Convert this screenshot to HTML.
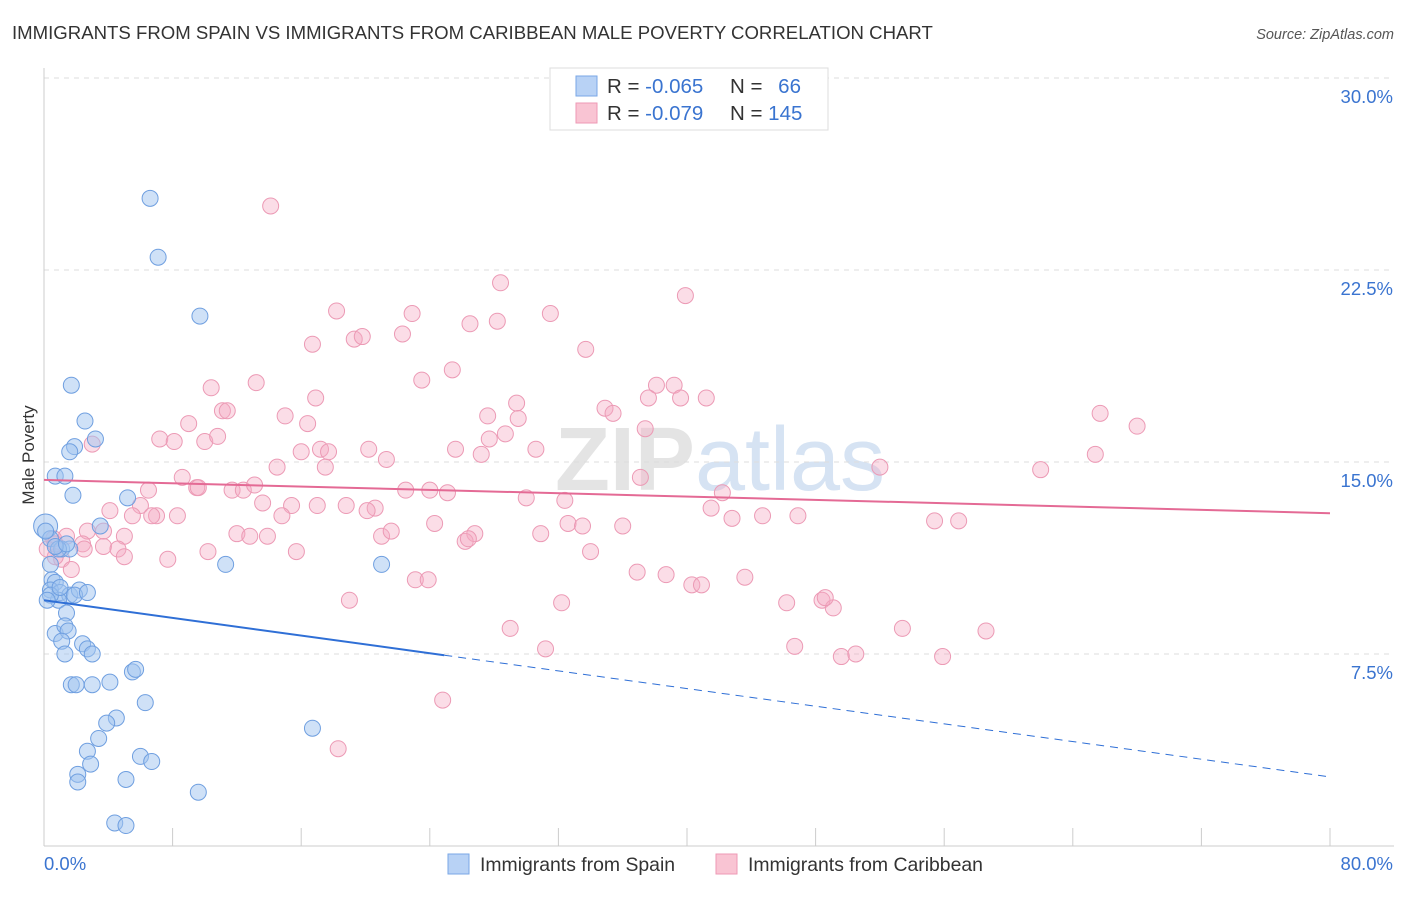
<!DOCTYPE html>
<html><head><meta charset="utf-8"><style>
body{margin:0;background:#fff;font-family:"Liberation Sans",sans-serif}
svg text{font-family:"Liberation Sans",sans-serif}
</style></head><body>
<svg id="chart" width="1406" height="892" viewBox="0 0 1406 892">
<text x="12" y="39" font-size="18.6" fill="#333">IMMIGRANTS FROM SPAIN VS IMMIGRANTS FROM CARIBBEAN MALE POVERTY CORRELATION CHART</text>
<text x="1394" y="39" font-size="14.5" fill="#555" font-style="italic" text-anchor="end">Source: ZipAtlas.com</text>
<text x="720" y="490" font-size="90" fill="#e4e4e4" text-anchor="middle" font-weight="bold">ZIP<tspan fill="#d6e3f3" font-weight="normal">atlas</tspan></text>
<g id="grid"></g><g id="axes"></g><g id="trend"></g><g id="pts"></g>
<text x="34" y="455" font-size="17" fill="#333" text-anchor="middle" transform="rotate(-90 34 455)">Male Poverty</text>
<g>
<rect x="550" y="68" width="278" height="62" fill="#fff" stroke="#ddd"/>
<rect x="576" y="76" width="21" height="20" fill="#b8d2f5" stroke="#7aa7e6"/>
<rect x="576" y="103" width="21" height="20" fill="#f9c4d3" stroke="#ee99b4"/>
<text x="607" y="93" font-size="20.5" fill="#333">R = <tspan fill="#3a74d0">-0.065</tspan></text>
<text x="730" y="93" font-size="20.5" fill="#333">N = <tspan fill="#3a74d0" dx="10">66</tspan></text>
<text x="607" y="120" font-size="20.5" fill="#333">R = <tspan fill="#3a74d0">-0.079</tspan></text>
<text x="730" y="120" font-size="20.5" fill="#333">N = <tspan fill="#3a74d0">145</tspan></text>
</g>
<g>
<rect x="448" y="854" width="21" height="20" fill="#b8d2f5" stroke="#7aa7e6"/>
<text x="480" y="871" font-size="19.4" fill="#333">Immigrants from Spain</text>
<rect x="716" y="854" width="21" height="20" fill="#f9c4d3" stroke="#ee99b4"/>
<text x="748" y="871" font-size="19.4" fill="#333">Immigrants from Caribbean</text>
</g>
</svg>
<script>
const blueX=[6.6,7.1,9.7,1.7,2.55,3.2,1.9,1.6,0.7,1.3,1.8,5.2,3.5,0.1,0.4,1.1,1.6,0.9,0.4,11.3,21.0,0.5,0.7,0.4,1.0,1.6,2.2,1.9,0.9,1.4,0.7,1.3,1.5,1.1,2.4,2.7,3.0,1.3,4.1,1.7,2.0,3.0,5.5,5.7,6.3,4.5,3.9,3.4,16.7,2.7,6.0,6.7,2.9,2.1,2.1,5.1,9.6,4.4,5.1,0.4,0.2,0.7,2.7,1.0,0.1,1.4];
const blueY=[25.3,23.0,20.7,18.0,16.6,15.9,15.6,15.4,14.45,14.45,13.7,13.6,12.5,12.5,12.0,11.6,11.6,11.6,11.0,11.0,11.0,10.4,10.3,10.0,9.9,9.8,10.0,9.8,9.6,9.1,8.3,8.6,8.4,8.0,7.9,7.7,7.5,7.5,6.4,6.3,6.3,6.3,6.8,6.9,5.6,5.0,4.8,4.2,4.6,3.7,3.5,3.3,3.2,2.8,2.5,2.6,2.1,0.9,0.8,9.8,9.6,11.7,9.9,10.1,12.3,11.8];
const pinkX=[14.1,28.4,39.9,18.2,22.9,26.5,28.2,31.5,19.3,19.8,22.3,16.7,33.7,25.4,10.4,13.2,23.5,16.9,38.1,39.2,37.6,39.6,41.2,34.9,35.4,29.4,27.6,29.5,11.1,11.4,9.0,15.0,16.4,37.4,7.2,8.1,10.0,10.8,3.0,27.7,28.7,30.6,27.2,25.6,20.2,21.3,16.0,17.2,17.7,14.5,17.5,52.0,62.0,65.7,68.0,65.4,37.1,8.6,9.5,9.6,11.7,12.4,13.1,6.5,22.5,24.0,25.1,30.0,32.4,42.2,13.6,15.4,17.0,18.8,20.6,20.1,6.0,7.0,4.1,5.5,8.3,6.7,14.8,41.5,44.7,46.9,42.8,55.4,56.9,2.7,3.7,5.0,12.0,12.8,13.9,21.0,24.3,26.8,32.6,33.5,36.0,30.9,26.2,21.6,0.6,1.4,2.4,3.7,4.6,5.0,1.1,2.5,0.7,7.7,10.2,15.7,34.0,26.4,1.7,23.1,23.9,36.9,38.7,40.3,40.9,43.6,19.0,32.2,46.2,48.4,49.1,48.6,29.0,31.2,46.7,49.6,50.5,53.4,55.9,58.6,24.8,18.3,0.7,0.2];
const pinkY=[25.0,22.0,21.5,20.9,20.8,20.4,20.5,20.8,19.8,19.9,20.0,19.6,19.4,18.6,17.9,18.1,18.2,17.5,18.0,18.0,17.5,17.5,17.5,17.1,16.9,17.3,16.8,16.7,17.0,17.0,16.5,16.8,16.5,16.3,15.9,15.8,15.8,16.0,15.7,15.9,16.1,15.5,15.3,15.5,15.5,15.1,15.4,15.5,15.4,14.8,14.8,14.8,14.7,16.9,16.4,15.3,14.4,14.4,14.0,14.0,13.9,13.9,14.1,13.9,13.9,13.9,13.8,13.6,13.5,13.8,13.4,13.3,13.3,13.3,13.2,13.1,13.3,12.9,13.1,12.9,12.9,12.9,12.9,13.2,12.9,12.9,12.8,12.7,12.7,12.3,12.3,12.1,12.2,12.1,12.1,12.1,12.6,12.2,12.6,12.5,12.5,12.2,11.9,12.3,12.0,12.1,11.8,11.7,11.6,11.3,11.2,11.6,11.3,11.2,11.5,11.5,11.5,12.0,10.8,10.4,10.4,10.7,10.6,10.2,10.2,10.5,9.6,9.5,9.5,9.6,9.3,9.7,8.5,7.7,7.8,7.4,7.5,8.5,7.4,8.4,5.7,3.8,11.8,11.6];
const yTicks=[7.5,15.0,22.5,30.0];
const blueTrend=[9.6,2.7], blueSolidEnd=24.9;
const pinkTrend=[14.3,13.0];
const NS='http://www.w3.org/2000/svg';
const X0=44,X1=1330,Y0=846,Y30=78;
const sx=v=>X0+(v/80)*(X1-X0);
const sy=v=>Y0-(v/30)*(Y0-Y30);
function mk(tag,attrs,parent){const e=document.createElementNS(NS,tag);for(const k in attrs)e.setAttribute(k,attrs[k]);parent.appendChild(e);return e;}
const grid=document.getElementById('grid'),axes=document.getElementById('axes'),trend=document.getElementById('trend'),pts=document.getElementById('pts');
yTicks.forEach(t=>{
 const l=mk('line',{x1:X0,x2:1394,y1:sy(t),y2:sy(t),stroke:'#ddd','stroke-dasharray':'5,5'},grid);
 
 
 const tx=mk('text',{x:1393,y:sy(t)+25,'font-size':18.5,fill:'#3a74d0','text-anchor':'end'},grid);
 tx.textContent=t.toFixed(1)+'%';
 
 
});
const ya=mk('line',{x1:X0,x2:X0,y1:68,y2:Y0,stroke:'#ccc'},axes);


const xa=mk('line',{x1:X0,x2:1394,y1:Y0,y2:Y0,stroke:'#ccc'},axes);


for(let i=0;i<=10;i++){const t=mk('line',{x1:sx(i*8),x2:sx(i*8),y1:Y0,y2:Y0-18,stroke:'#ccc'},axes);
 
 }
const xl=mk('text',{x:44,y:870,'font-size':18.5,fill:'#3a74d0'},axes);xl.textContent='0.0%';


const xr=mk('text',{x:1393,y:870,'font-size':18.5,fill:'#3a74d0','text-anchor':'end'},axes);xr.textContent='80.0%';


pinkX.forEach((x,i)=>{const c=mk('circle',{cx:sx(x),cy:sy(pinkY[i]),r:8,fill:'rgba(245,170,195,0.4)',stroke:'#ec9ab5','stroke-width':1},pts);
 
 });
blueX.forEach((x,i)=>{const c=mk('circle',{cx:sx(x),cy:sy(blueY[i]),r:(i==13?12:8),fill:'rgba(160,195,240,0.5)',stroke:'#6f9fe0','stroke-width':1},pts);
 
 });
const bAt=v=>blueTrend[0]+(blueTrend[1]-blueTrend[0])*v/80;
const b1=mk('line',{x1:sx(0),y1:sy(bAt(0)),x2:sx(blueSolidEnd),y2:sy(bAt(blueSolidEnd)),stroke:'#2f6fd6','stroke-width':2},trend);


const b2=mk('line',{x1:sx(blueSolidEnd),y1:sy(bAt(blueSolidEnd)),x2:sx(80),y2:sy(bAt(80)),stroke:'#2f6fd6','stroke-width':1,'stroke-dasharray':'8,6'},trend);


const p1=mk('line',{x1:sx(0),y1:sy(pinkTrend[0]),x2:sx(80),y2:sy(pinkTrend[1]),stroke:'#e46a95','stroke-width':2},trend);


document.getElementById('chart').appendChild(trend);
</script>
</body></html>
